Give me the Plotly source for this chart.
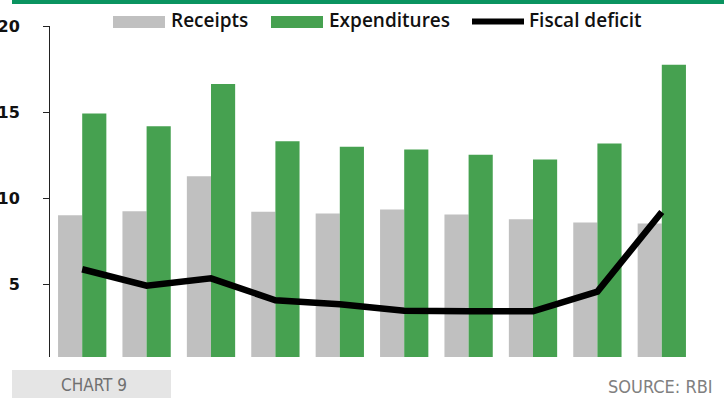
import plotly.graph_objects as go

# Fiscal years (categories along the x axis, labels hidden)
years = ["2011-12", "2012-13", "2013-14", "2014-15", "2015-16",
         "2016-17", "2017-18", "2018-19", "2019-20", "2020-21"]

# Per cent of GDP
receipts = [9.02, 9.26, 11.29, 9.22, 9.12, 9.36, 9.07, 8.79, 8.60, 8.54]
expenditures = [14.93, 14.19, 16.63, 13.32, 12.99, 12.84, 12.53, 12.26, 13.19, 17.75]
fiscal_deficit = [5.89, 4.94, 5.36, 4.09, 3.86, 3.48, 3.46, 3.45, 4.59, 9.21]

y_ticks = [5, 10, 15, 20]

GREY = "#c0c0c0"
GREEN = "#46a150"
BAND = "#0a9460"

W, H = 724, 398
L, R, T, B = 50, 30, 26, 41
PW, PH = W - L - R, H - T - B


def px(x):
    return (x - L) / PW


def py(y):
    return (H - B - y) / PH


fig = go.Figure()
fig.add_trace(go.Bar(x=years, y=receipts, name="Receipts",
                     marker=dict(color=GREY, line=dict(width=0))))
fig.add_trace(go.Bar(x=years, y=expenditures, name="Expenditures",
                     marker=dict(color=GREEN, line=dict(width=0))))
fig.add_trace(go.Scatter(x=years, y=fiscal_deficit, name="Fiscal deficit",
                         mode="lines", line=dict(color="black", width=6.5)))

shapes = [
    # green header band
    dict(type="rect", xref="paper", yref="paper", x0=px(12), x1=px(724),
         y0=py(4), y1=py(0), fillcolor=BAND, line=dict(width=0), layer="above"),
    # footer tag box
    dict(type="rect", xref="paper", yref="paper", x0=px(12), x1=px(171),
         y0=py(398), y1=py(370), fillcolor="#e5e5e5", line=dict(width=0)),
    # legend swatches
    dict(type="rect", xref="paper", yref="paper", x0=px(113), x1=px(165),
         y0=py(28), y1=py(16), fillcolor=GREY, line=dict(width=0)),
    dict(type="rect", xref="paper", yref="paper", x0=px(271), x1=px(323),
         y0=py(28), y1=py(16), fillcolor=GREEN, line=dict(width=0)),
    dict(type="line", xref="paper", yref="paper", x0=px(472), x1=px(524),
         y0=py(21.5), y1=py(21.5), line=dict(color="black", width=6)),
]

legend_font = dict(family="Open Sans, Noto Sans, sans-serif", size=19,
                   color="#111111", weight=600)
foot_family = "Liberation Sans Narrow, DejaVu Sans Condensed, Roboto"
annotations = [
    dict(text="Receipts", x=px(169), y=py(20), xref="paper", yref="paper",
         xanchor="left", yanchor="middle", showarrow=False, font=legend_font),
    dict(text="Expenditures", x=px(327), y=py(20), xref="paper", yref="paper",
         xanchor="left", yanchor="middle", showarrow=False, font=legend_font),
    dict(text="Fiscal deficit", x=px(527), y=py(20), xref="paper", yref="paper",
         xanchor="left", yanchor="middle", showarrow=False, font=legend_font),
    dict(text="CHART 9", x=px(94), y=py(385), xref="paper", yref="paper",
         xanchor="center", yanchor="middle", showarrow=False,
         font=dict(family=foot_family, size=17, color="#707070")),
    dict(text="SOURCE: RBI", x=px(715), y=py(387), xref="paper", yref="paper",
         xanchor="right", yanchor="middle", showarrow=False,
         font=dict(family=foot_family, size=18, color="#808080")),
]

fig.update_layout(
    width=W, height=H,
    margin=dict(l=L, r=R, t=T, b=B, pad=0),
    paper_bgcolor="white", plot_bgcolor="white",
    barmode="group", bargap=0.25, bargroupgap=0,
    showlegend=False,
    shapes=shapes, annotations=annotations,
    xaxis=dict(type="category", showticklabels=False, showline=False,
               showgrid=False, zeroline=False, ticks="", automargin=False),
    yaxis=dict(range=[0.8, 20], tickvals=y_ticks, showgrid=False, zeroline=False,
               automargin=False,
               showline=True, linecolor="#222222", linewidth=1,
               ticks="outside", ticklen=6, tickcolor="#222222", tickwidth=1,
               ticklabelstandoff=20,
               tickfont=dict(family="DejaVu Sans, sans-serif",
                             size=16, color="#111111", weight=700)),
)

fig.write_html("out.html")
